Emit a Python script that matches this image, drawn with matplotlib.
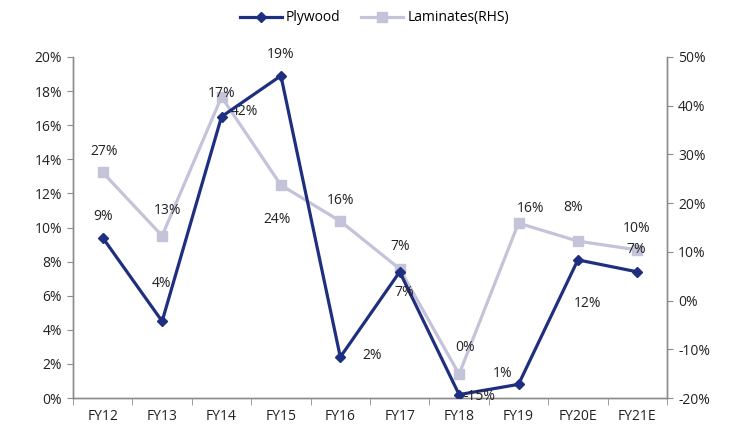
import matplotlib
matplotlib.use('Agg')
import matplotlib.pyplot as plt
from matplotlib.ticker import FuncFormatter, FixedLocator

plt.rcParams['font.family'] = ['Open Sans', 'DejaVu Sans']

years = ['FY12', 'FY13', 'FY14', 'FY15', 'FY16', 'FY17', 'FY18', 'FY19', 'FY20E', 'FY21E']
plywood = [9.4, 4.5, 16.5, 18.9, 2.4, 7.4, 0.2, 0.8, 8.1, 7.4]
laminates = [26.3, 13.3, 41.8, 23.7, 16.3, 6.5, -15.1, 15.9, 12.2, 10.4]

# data labels as they appear on the chart (text, dx px, dy px from point)
ply_labels = ['9%', '4%', '17%', '19%', '2%', '7%', '-15%', '1%', '8%', '7%']
ply_offsets = [(0, 21), (-1, 38), (0, 23), (0, 21), (32, 2), (4, -21),
               (20, -2), (-16, 11), (-5, 52), (-1, 22)]
lam_labels = ['27%', '13%', '42%', '24%', '16%', '7%', '0%', '16%', '12%', '10%']
lam_offsets = [(1, 21), (5, 25), (23, -15), (-4, -34), (0, 21), (0, 22),
               (6, 27), (12, 15), (10, -62), (-1, 21)]

navy = '#1f2f7f'
lilac = '#c3c3d9'
grey = '#8c8c8c'
txt = '#222222'

fig = plt.figure(figsize=(7.43, 4.26), dpi=100)
ax = fig.add_axes([0.0983, 0.0657, 0.7994, 0.8005])
ax2 = ax.twinx()

x = list(range(len(years)))
l2, = ax2.plot(x, laminates, color=lilac, lw=2.3, marker='s', ms=7, label='Laminates(RHS)', zorder=2)
l1, = ax.plot(x, plywood, color=navy, lw=2.3, marker='D', ms=5, label='Plywood', zorder=3)
ax.set_zorder(ax2.get_zorder() + 1)
ax.patch.set_visible(False)

ax.set_xlim(-0.5, len(years) - 0.5)
ax.set_ylim(0, 20)
ax2.set_ylim(-20, 50)
ax.set_yticks(range(0, 21, 2))
ax2.set_yticks(range(-20, 51, 10))
ax.yaxis.set_major_formatter(FuncFormatter(lambda v, p: f'{v:.0f}%'))
ax2.yaxis.set_major_formatter(FuncFormatter(lambda v, p: f'{v:.0f}%'))

ax.set_xticks(x)
ax.set_xticklabels(years)
ax.xaxis.set_minor_locator(FixedLocator([i - 0.5 for i in range(len(years) + 1)]))
ax.tick_params(axis='x', which='major', length=0, pad=8, labelsize=10, labelcolor=txt)
ax.tick_params(axis='x', which='minor', length=5, color=grey, direction='out')
ax.tick_params(axis='y', length=4, color=grey, labelsize=10, labelcolor=txt, pad=4)
ax2.tick_params(axis='y', length=4, color=grey, labelsize=10, labelcolor=txt, pad=4)

for a in (ax, ax2):
    a.spines['top'].set_visible(False)
    for s in ('left', 'right', 'bottom'):
        a.spines[s].set_color(grey)
        a.spines[s].set_linewidth(1.0)

for i, (t, off) in enumerate(zip(ply_labels, ply_offsets)):
    ax.annotate(t, (x[i], plywood[i]), xytext=off, textcoords='offset pixels',
                ha='center', va='center', fontsize=10, color=txt, zorder=5)
for i, (t, off) in enumerate(zip(lam_labels, lam_offsets)):
    ax2.annotate(t, (x[i], laminates[i]), xytext=off, textcoords='offset pixels',
                 ha='center', va='center', fontsize=10, color=txt, zorder=5)

fig.legend([l1, l2], ['Plywood', 'Laminates(RHS)'], loc='center', bbox_to_anchor=(0.504, 0.958),
           ncol=2, frameon=False, fontsize=10, handlelength=3, columnspacing=1.5, handletextpad=0.3)

fig.savefig('out.png', dpi=100)
